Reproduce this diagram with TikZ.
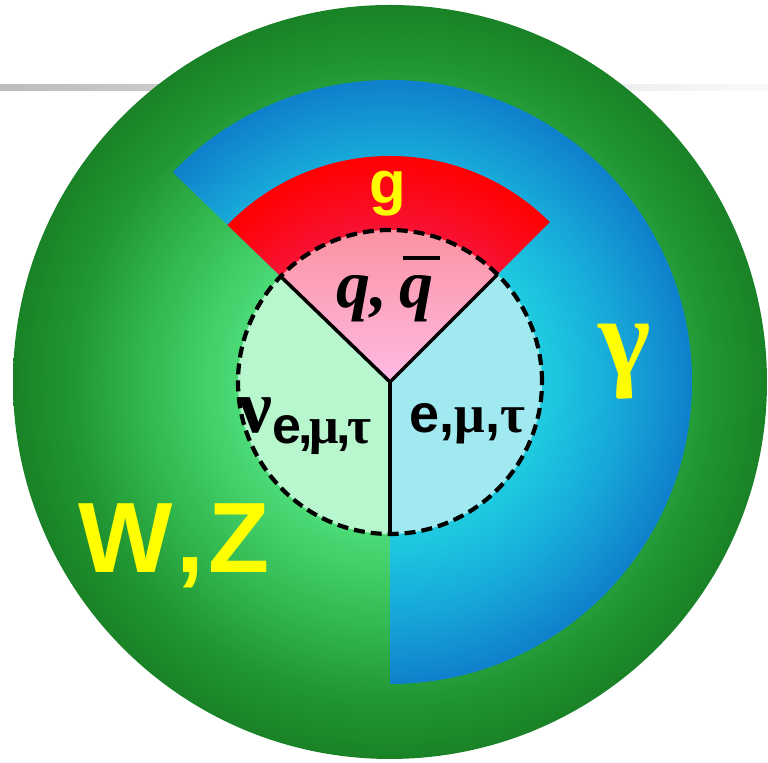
\documentclass[tikz,border=0pt]{standalone}
\usepackage{fontspec}
\setmainfont{Liberation Sans}
\newfontfamily\qfont{Liberation Serif}
\usepackage{tikz}
\usetikzlibrary{positioning}

\definecolor{wzyellow}{RGB}{255,255,0}
\definecolor{qpinktop}{RGB}{250,145,158}
\definecolor{qpinkbot}{RGB}{255,186,228}
\definecolor{nugreen}{RGB}{184,246,206}
\definecolor{lepcyan}{RGB}{160,233,240}

\pgfdeclareradialshading{wzshade}{\pgfpoint{0bp}{0bp}}{rgb(0bp)=(0.40,0.91,0.56); rgb(10bp)=(0.30,0.86,0.47); rgb(16bp)=(0.20,0.73,0.32); rgb(21bp)=(0.13,0.59,0.20); rgb(25bp)=(0.10,0.51,0.15); rgb(50bp)=(0.10,0.51,0.15)}
\pgfdeclareradialshading{gamshade}{\pgfpoint{0bp}{0bp}}{rgb(0bp)=(0.14,0.82,0.90); rgb(12.5bp)=(0.12,0.80,0.88); rgb(19bp)=(0.09,0.66,0.85); rgb(25bp)=(0.06,0.50,0.80); rgb(50bp)=(0.06,0.50,0.80)}
\pgfdeclareradialshading{glushade}{\pgfpoint{0bp}{0bp}}{rgb(0bp)=(0.95,0.15,0.30); rgb(17bp)=(0.97,0.07,0.20); rgb(25bp)=(1,0,0); rgb(50bp)=(1,0,0)}

\begin{document}
\begin{tikzpicture}[x=0.5pt,y=0.5pt,
   spoke/.style={draw=black,line width=1.75pt},
   rim/.style={draw=black,line width=2.1pt,dash pattern=on 5.5pt off 3pt},
   yl/.style={text=wzyellow,font=\bfseries,inner sep=0pt,anchor=base},
   bk/.style={text=black,font=\bfseries,inner sep=0pt,anchor=base west}]
  \useasboundingbox (0,0) rectangle (768,763);
  \coordinate (c) at (390,381);
  \shade[left color=black!26,right color=black!2] (0,672) rectangle (768,678);
  \shade[shading=wzshade] (c) circle[radius=377];
  \begin{scope}
    \clip (c) -- ++(-90:302) arc[start angle=-90,end angle=136,radius=302] -- cycle;
    \shade[shading=gamshade] (c) circle[radius=302];
  \end{scope}
  \begin{scope}
    \clip (c) -- ++(45:226) arc[start angle=45,end angle=136,radius=226] -- cycle;
    \shade[shading=glushade] (c) circle[radius=226];
  \end{scope}
  \shade[top color=qpinktop,bottom color=qpinkbot] (c) -- ++(45:152) arc[start angle=45,end angle=136,radius=152] -- cycle;
  \fill[nugreen] (c) -- ++(136:152) arc[start angle=136,end angle=270,radius=152] -- cycle;
  \fill[lepcyan] (c) -- ++(-90:152) arc[start angle=-90,end angle=45,radius=152] -- cycle;
  \draw[spoke] (c) -- ++(45:152);
  \draw[spoke] (c) -- ++(136:152);
  \draw[spoke] (c) -- ++(-90:152);
  \draw[rim] (c) circle[radius=152];
  \node[yl,font=\bfseries\fontsize{30}{30}\selectfont] (glu) at (388,559) {g};
  \node[anchor=base,inner sep=0pt,font=\qfont\bfseries\itshape\fontsize{34}{34}\selectfont] (qrk) at (385,455)
    {q,\kern6pt\makebox[0pt][l]{\hspace{1.5pt}\rule[0.70em]{0.55em}{2pt}}q};
  \node[yl,font=\qfont\bfseries\fontsize{56}{56}\selectfont] (gam) at (625,387) {γ};
  \node[bk,font=\bfseries\fontsize{38}{38}\selectfont] (nu) at (238,330)
    {{\qfont ν}\fontsize{26}{26}\selectfont\raisebox{-5.5pt}{e\kern-1.5pt,\kern-1.5pt{\qfont μ}\kern-1.5pt,\kern-1.5pt{\qfont τ}}};
  \node[bk,font=\bfseries\fontsize{27}{27}\selectfont] (lep) at (409,330) {e,{\qfont μ},{\qfont τ}};
  \node[yl,anchor=base west,font=\bfseries\fontsize{50}{50}\selectfont] (wz) at (78,190) {W\kern2pt,\kern2pt Z};
\end{tikzpicture}
\end{document}
